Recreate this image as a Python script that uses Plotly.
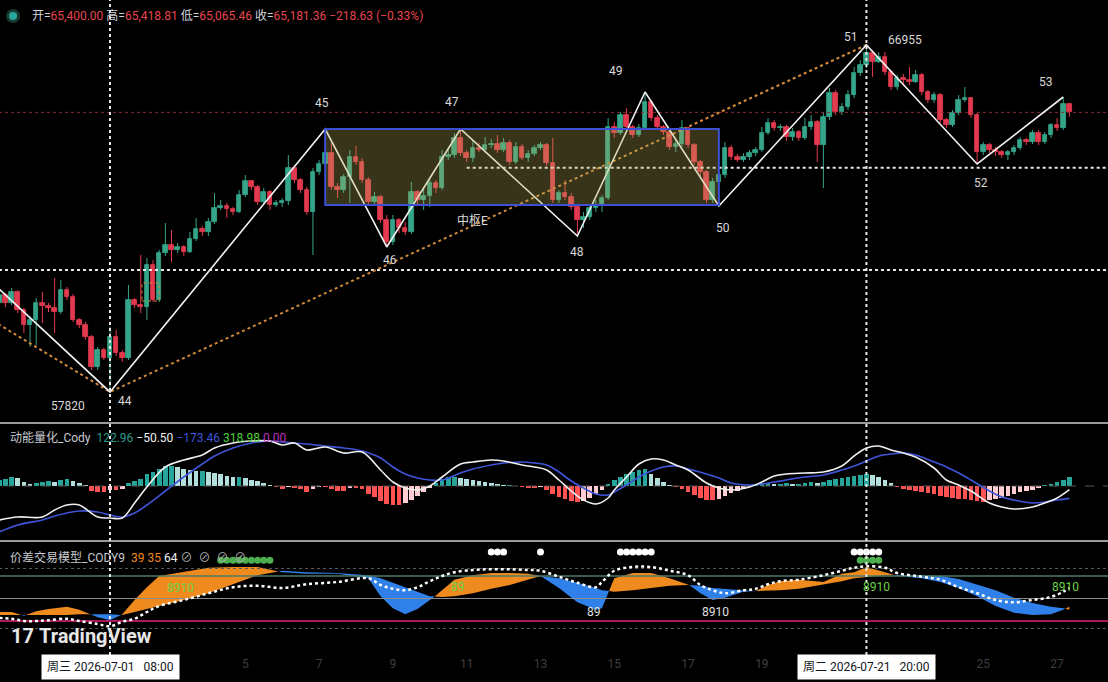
import pandas as pd
import plotly.graph_objects as go
from plotly.subplots import make_subplots

# 4h candles starting 2026-06-28 08:00
t0 = pd.Timestamp("2026-06-28 08:00")
times = pd.date_range(t0, periods=175, freq="4h")

first_open = 60162
close = [
    60373, 60162, 60452, 59978, 59583, 59714, 60162, 60083, 60030, 59925,
    60504, 60320, 59714, 59583, 59267, 58477, 58925, 58714, 59267, 58846,
    58714, 60241, 60109, 60057, 61162, 60241, 61479, 61689, 61558, 61637,
    61505, 61847, 62110, 62031, 62295, 62663, 62716, 62637, 62558, 63006,
    63374, 63216, 62821, 63085, 62742, 62795, 62848, 63717, 63401, 63137,
    62558, 63611, 63822, 64111, 63216, 63137, 63480, 64006, 63875, 63401,
    62821, 62953, 62347, 61768, 62347, 62137, 62031, 63085, 62874, 62979,
    63321, 63190, 64006, 64059, 64507, 64111, 63980, 64243, 64190, 64322,
    64348, 64190, 64375, 63875, 64269, 63980, 64085, 64243, 64322, 63848,
    62874, 63058, 62953, 62690, 62347, 62426, 62663, 62742, 62927, 64796,
    64638, 65112, 64796, 64586, 64770, 65454, 65033, 64796, 64664, 64269,
    64348, 64770, 64322, 63875, 63611, 62874, 63348, 63532, 64243, 64006,
    63927, 64006, 64111, 64190, 64638, 64901, 64770, 64796, 64533, 64664,
    64507, 64796, 64928, 64322, 65059, 65691, 65191, 65323, 65639, 66218,
    66429, 66745, 66507, 66639, 66244, 65849, 66086, 66034, 65981, 66165,
    65718, 65507, 65639, 64980, 64849, 65165, 65507, 65560, 65112, 64138,
    64322, 64190, 64138, 64059, 64138, 64243, 64454, 64401, 64638, 64401,
    64586, 64849, 64770, 65400, 65181.36,
]
high = [
    60504, 60426, 60557, 60504, 60030, 59820, 60294, 60452, 60162, 60820,
    60768, 60583, 60399, 59767, 59662, 59319, 59004, 58977, 59530, 59451,
    58925, 60636, 60294, 61426, 61347, 61294, 61558, 62268, 62084, 61742,
    61689, 62031, 62400, 62190, 62400, 63058, 62874, 62795, 62690, 63137,
    63532, 63401, 63269, 63190, 63137, 62874, 62927, 64059, 63796, 63453,
    63216, 63717, 63927, 64743, 64375, 63321, 63559, 64190, 64296, 63980,
    63480, 63085, 63006, 62479, 62479, 62400, 62295, 63348, 63137, 63190,
    63453, 63401, 64190, 64243, 64638, 64743, 64190, 64454, 64375, 64533,
    64480, 64586, 64507, 64454, 64401, 64348, 64190, 64322, 64401, 64375,
    64507, 63137, 63401, 63058, 62742, 62558, 62769, 62874, 63006, 65033,
    64928, 65191, 65296, 64849, 64875, 65718, 65507, 65112, 64849, 64717,
    64454, 64980, 64796, 64375, 63927, 63664, 63453, 63664, 64401, 64322,
    64085, 64111, 64190, 64269, 64796, 65033, 64980, 64875, 64849, 64770,
    64717, 65033, 65112, 64980, 65191, 65823, 65770, 65428, 65770, 66376,
    66560, 66955, 66823, 66771, 66771, 66297, 66165, 66192, 66376, 66297,
    66218, 65770, 65718, 65691, 65033, 65244, 65639, 65849, 65586, 65165,
    64401, 64375, 64269, 64190, 64190, 64322, 64533, 64507, 64717, 64717,
    64664, 64901, 65033, 65586, 65418.81,
]
low = [
    60083, 60057, 60109, 59899, 59372, 59004, 59056, 59635, 59925, 59372,
    59872, 60241, 59662, 59504, 59188, 58398, 58398, 58661, 57820, 58767,
    58609, 58661, 60030, 59899, 59714, 60188, 60188, 61400, 61242, 61479,
    61400, 61479, 61795, 61926, 61926, 62242, 62611, 62400, 62479, 62532,
    62953, 63137, 62742, 62769, 62611, 62690, 62690, 62742, 63321, 63058,
    62479, 61426, 63532, 63769, 63137, 62927, 63058, 62795, 63796, 63321,
    62742, 62769, 62268, 61637, 61689, 62005, 61952, 61979, 62742, 62611,
    62690, 63058, 63137, 63927, 63980, 64033, 63875, 63875, 64138, 64190,
    64243, 64111, 64138, 63796, 63822, 63927, 63875, 64033, 64190, 63769,
    62795, 62795, 62874, 62611, 61926, 62137, 62347, 62558, 62558, 62874,
    64507, 64586, 64717, 64507, 64533, 64717, 64954, 64717, 64586, 64190,
    64138, 64269, 64243, 63796, 63506, 62795, 62795, 62716, 63453, 63927,
    63875, 63875, 63927, 64033, 64138, 64586, 64691, 64691, 64428, 64428,
    64428, 64454, 64717, 63875, 63190, 64980, 65112, 65112, 65244, 65560,
    66139, 66350, 66113, 66481, 66165, 65770, 65770, 65902, 65902, 65955,
    65639, 65428, 65428, 64901, 64770, 64796, 65112, 65454, 65033, 63822,
    64059, 64111, 64033, 63980, 63927, 64059, 64190, 64322, 64348, 64322,
    64348, 64507, 64691, 64717, 65065.46,
]
opens = [first_open] + close[:-1]

# zigzag pivots (bar index, price)
zz_idx = [-3, 18, 53, 63, 75, 94, 105, 117, 141, 159, 173]
zz_px = [60978, 57820, 64743, 61637, 64743, 61926, 65718, 62716, 66955, 63822, 65586]
zz_txt = ["", "44", "45", "46", "47", "48", "49", "50", "51", "52", "53"]

# orange dotted trend line
tl_idx = [-1, 18, 141]
tl_px = [59690, 57820, 66955]

# 中枢E zone
zone_idx = [53, 117]
zone_px = [62740, 64743]

lvl_full = 61030
lvl_part = 63720
lvl_part_from = 76

# momentum panel
hist = [
    84, 98, 126, 112, 56, 28, 42, 56, 70, 56,
    84, 98, 70, 42, 14, -70, -84, -84, -56, -56,
    -42, 42, 70, 98, 168, 196, 238, 280, 280, 266,
    238, 224, 210, 210, 196, 182, 168, 140, 126, 126,
    112, 84, 70, 42, 14, -14, -42, -14, -28, -42,
    -84, -42, -14, -14, -42, -70, -70, -28, -28, -42,
    -112, -154, -210, -252, -266, -266, -238, -196, -140, -84,
    -28, 42, 98, 126, 126, 112, 98, 84, 70, 56,
    42, 28, 14, 14, 0, -14, -28, -28, -14, -56,
    -112, -154, -182, -210, -224, -210, -168, -112, -56, 28,
    84, 126, 168, 196, 224, 238, 168, 112, 56, 14,
    -14, -42, -84, -126, -168, -196, -196, -182, -140, -98,
    -70, -42, -14, 28, 42, 42, 28, 28, 42, 28,
    28, 42, 56, 42, 56, 84, 98, 112, 126, 140,
    154, 168, 154, 126, 84, 42, -14, -42, -56, -70,
    -84, -98, -112, -140, -154, -168, -182, -182, -196, -210,
    -224, -196, -182, -168, -140, -112, -84, -70, -56, -28,
    14, 28, 56, 84, 122.96,
]
macd_idx = [0, 3, 7, 9, 11, 13, 16, 18, 20, 22, 24, 27, 30, 33, 35, 38, 41, 44, 46, 48,
            50, 53, 56, 59, 62, 64, 66, 68, 70, 72, 75, 77, 80, 82, 85, 87, 89, 91, 93, 95,
            97, 99, 100, 102, 104, 106, 108, 110, 112, 115, 117, 119, 122, 124, 126, 128,
            131, 134, 137, 139, 141, 143, 145, 147, 149, 152, 154, 156, 158, 161, 163, 165,
            168, 170, 172, 174]
macd_line = [-476, -434, -434, -336, -266, -266, -434, -448, -448, -238, -14, 266, 364, 434,
             532, 602, 630, 630, 574, 602, 504, 546, 462, 476, 224, 56, -28, -56, 0, 126,
             308, 336, 364, 350, 294, 266, 224, 84, -70, -196, -252, -168, -56, 126, 308,
             378, 364, 294, 224, 42, -28, -56, -14, 56, 140, 168, 182, 196, 280, 420, 532,
             560, 504, 462, 406, 252, 84, 14, -70, -238, -294, -322, -294, -238, -168, -50.5]
signal_line = [-644, -546, -476, -420, -378, -350, -364, -406, -434, -378, -266, -70, 126,
               308, 420, 532, 602, 630, 616, 602, 588, 560, 532, 490, 392, 266, 168, 112, 84,
               84, 182, 238, 294, 322, 336, 322, 294, 196, 70, -28, -112, -126, -84, 14, 126,
               210, 266, 280, 238, 168, 112, 42, 14, 28, 56, 84, 126, 154, 224, 280, 350, 420,
               448, 462, 434, 336, 266, 182, 84, -70, -154, -196, -238, -224, -196, -173.46]

# spread model panel
cody_idx = [0, 2, 4, 6, 8, 11, 13, 16, 18, 20, 22, 24, 26, 30, 34, 38, 42, 46, 50, 55,
            60, 62, 64, 66, 68, 70, 72, 74, 77, 80, 83, 86, 88, 91, 94, 97, 98, 100, 103, 106,
            109, 112, 114, 116, 118, 121, 123, 125, 127, 130, 134, 137, 139, 141, 144, 146,
            150, 153, 156, 159, 162, 165, 168, 171, 173, 174]
fast = [32, 32, 27, 33, 36, 39, 35, 25, 21, 29, 48, 65, 80, 85, 91, 92, 92, 85, 83, 83,
        77, 53, 37, 29, 36, 47, 61, 75, 81, 84, 84, 83, 80, 64, 45, 35, 37, 77, 84, 84,
        77, 69, 57, 48, 51, 59, 60, 68, 73, 75, 72, 83, 85, 92, 85, 80, 77, 72, 64, 53,
        40, 31, 28, 29, 35, 39]
slow = [28, 28, 28, 28, 28, 28, 29, 29, 29, 28, 31, 36, 40, 48, 57, 69, 81, 87, 85, 84,
        81, 77, 72, 65, 59, 53, 52, 53, 57, 63, 68, 75, 80, 77, 71, 64, 61, 59, 61, 64,
        67, 68, 67, 64, 63, 61, 60, 60, 61, 63, 69, 73, 77, 79, 81, 81, 81, 80, 76, 69,
        61, 51, 44, 39, 37, 35]
trend = [24, 23, 20, 20, 21, 23, 20, 16, 13, 19, 23, 32, 40, 48, 57, 65, 67, 64, 69, 72,
         77, 68, 63, 61, 65, 73, 80, 85, 88, 89, 89, 88, 87, 79, 71, 65, 72, 87, 92, 92,
         87, 81, 68, 61, 57, 61, 63, 69, 73, 75, 81, 87, 91, 93, 91, 84, 79, 75, 65, 57,
         48, 45, 48, 52, 59, 64]
levels = [90, 80, 50, 20, 10]
white_dot_idx = [80, 81, 82, 88, 101, 102, 103, 104, 105, 106, 139, 140, 141, 142, 143]
green_dot_idx = [36, 37, 38, 39, 40, 41, 42, 43, 44, 140, 141, 142, 143]
white_dot_v = 112
green_dot_v = 101
sig_idx = [29.4, 74.6, 96.7, 116.4, 142.7, 173.3]
sig_v = [64, 65, 32, 32, 65, 65]
sig_txt = ["8910", "89", "89", "8910", "8910", "8910"]
sig_green = [True, True, False, False, True, True]

# day ticks on the time axis (the rest sit under the date boxes)
tick_days = [5, 7, 9, 11, 13, 15, 17, 19, 25, 27]

UP, DN = "#35a68a", "#e33a4f"
FONT = 'Roboto, "Noto Sans CJK SC", sans-serif'
W, H, PH = 1108, 682, 655
BAR_MS = 4 * 3600 * 1000


def tx(i):
    return t0 + pd.Timedelta(hours=4 * i)


def px(x):
    return x / W


def py(y):
    return (PH - y) / PH


def cloud(xi, a, b):
    regions = []
    sx, sa, sb = [xi[0]], [a[0]], [b[0]]
    up = a[0] >= b[0]
    for k in range(1, len(xi)):
        now = a[k] >= b[k]
        if now != up:
            d0, d1 = a[k - 1] - b[k - 1], a[k] - b[k]
            f = d0 / (d0 - d1)
            xc = xi[k - 1] + f * (xi[k] - xi[k - 1])
            yc = a[k - 1] + f * (a[k] - a[k - 1])
            sx.append(xc); sa.append(yc); sb.append(yc)
            regions.append((up, sx, sa, sb))
            sx, sa, sb = [xc], [yc], [yc]
            up = now
        sx.append(xi[k]); sa.append(a[k]); sb.append(b[k])
    regions.append((up, sx, sa, sb))
    return regions


fig = make_subplots(rows=3, cols=1, shared_xaxes=True, vertical_spacing=0)

# ---- price panel: candles as wick lines + body bars
for is_up, col in ((True, UP), (False, DN)):
    wx, wy = [], []
    for t, o, h, l, c in zip(times, opens, high, low, close):
        if (c >= o) == is_up:
            wx += [t, t, None]
            wy += [l, h, None]
    fig.add_trace(go.Scatter(x=wx, y=wy, mode="lines", line=dict(color=col, width=1),
                             hoverinfo="skip"), row=1, col=1)
body_base = [min(o, c) for o, c in zip(opens, close)]
body_size = [abs(c - o) for o, c in zip(opens, close)]
body_col = [UP if c >= o else DN for o, c in zip(opens, close)]
fig.add_trace(go.Bar(x=times, y=body_size, base=body_base, width=0.74 * BAR_MS,
                     marker=dict(color=body_col, line=dict(color=body_col, width=0.8)),
                     hoverinfo="skip"), row=1, col=1)

x_end = tx(182)
fig.add_trace(go.Scatter(x=[tx(-2), x_end], y=[close[-1]] * 2, mode="lines",
                         line=dict(color="#8a2e30", width=1, dash="dot")), row=1, col=1)
fig.add_trace(go.Scatter(x=[tx(-2), x_end], y=[lvl_full] * 2, mode="lines",
                         line=dict(color="#e8e8e8", width=2, dash="dot")), row=1, col=1)
fig.add_trace(go.Scatter(x=[tx(lvl_part_from), x_end], y=[lvl_part] * 2, mode="lines",
                         line=dict(color="#e8e8e8", width=2, dash="dot")), row=1, col=1)
fig.add_trace(go.Scatter(x=[tx(i) for i in tl_idx], y=tl_px, mode="lines",
                         line=dict(color="#d08a3c", width=2, dash="dot")), row=1, col=1)
fig.add_trace(go.Scatter(x=[tx(i) for i in zz_idx], y=zz_px, mode="lines",
                         line=dict(color="#f2f2f2", width=1.6)), row=1, col=1)

# ---- momentum panel
hist_cols = []
for k, h in enumerate(hist):
    prev = hist[k - 1] if k else h
    if h >= 0:
        hist_cols.append("#26a69a" if h >= prev else "#b2dfdb")
    else:
        hist_cols.append("#ff5252" if h <= prev else "#ffcdd2")
fig.add_trace(go.Scatter(x=[tx(-2), x_end], y=[0, 0], mode="lines",
                         line=dict(color="#555555", width=1, dash="dash")), row=2, col=1)
fig.add_trace(go.Bar(x=times, y=hist, marker=dict(color=hist_cols, line=dict(width=0)),
                     width=0.75 * BAR_MS, hoverinfo="skip"), row=2, col=1)
fig.add_trace(go.Scatter(x=[tx(i) for i in macd_idx], y=signal_line, mode="lines",
                         line=dict(color="#3f55d8", width=1.6, shape="spline")), row=2, col=1)
fig.add_trace(go.Scatter(x=[tx(i) for i in macd_idx], y=macd_line, mode="lines",
                         line=dict(color="#f0f0f0", width=1.6, shape="spline")), row=2, col=1)

# ---- spread model panel
for up, sx, sa, sb in cloud(cody_idx, fast, slow):
    fig.add_trace(go.Scatter(
        x=[tx(v) for v in sx + sx[::-1]], y=sa + sb[::-1], mode="lines",
        fill="toself", fillcolor="#ef8a1f" if up else "#2f80e8",
        line=dict(width=0), hoverinfo="skip"), row=3, col=1)

lvl_style = {90: ("#5a5a5a", 1, "dot"), 80: ("#4f7a68", 1.5, "solid"),
             50: ("#8c8c8c", 1, "solid"), 20: ("#a8185a", 2, "solid"),
             10: ("#5a5a5a", 1, "dot")}
for lv in levels:
    c, w, d = lvl_style[lv]
    fig.add_trace(go.Scatter(x=[tx(-2), x_end], y=[lv, lv], mode="lines",
                             line=dict(color=c, width=w, dash=d)), row=3, col=1)

fig.add_trace(go.Scatter(x=[tx(i) for i in cody_idx], y=trend, mode="lines",
                         line=dict(color="#ffffff", width=2.5, dash="dot", shape="spline")),
              row=3, col=1)
fig.add_trace(go.Scatter(x=[tx(i) for i in green_dot_idx], y=[green_dot_v] * len(green_dot_idx),
                         mode="markers", marker=dict(color="#4caf50", size=7)), row=3, col=1)
fig.add_trace(go.Scatter(x=[tx(i) for i in white_dot_idx], y=[white_dot_v] * len(white_dot_idx),
                         mode="markers", marker=dict(color="#ffffff", size=7)), row=3, col=1)

# ---- annotations
ann = []
zz_off = {"44": (15, -9), "45": (-3, 26), "46": (3, -13), "47": (-9, 27), "48": (0, -16),
          "49": (-29, 21), "50": (4, -22), "51": (-15, 8), "52": (4, -19), "53": (-17, 15)}
for i, p, t in zip(zz_idx, zz_px, zz_txt):
    if not t:
        continue
    dx, dy = zz_off[t]
    ann.append(dict(x=tx(i), y=p, xref="x", yref="y", text=t, showarrow=False,
                    xshift=dx, yshift=dy, font=dict(size=12, color="#d9d9d9")))
ann.append(dict(x=tx(zz_idx[1]), y=zz_px[1], xref="x", yref="y", text=f"{zz_px[1]}",
                showarrow=False, xshift=-42, yshift=-14, font=dict(size=12, color="#d9d9d9")))
ann.append(dict(x=tx(zz_idx[8]), y=zz_px[8], xref="x", yref="y", text=f"{zz_px[8]}",
                showarrow=False, xshift=39, yshift=5, font=dict(size=12, color="#d9d9d9")))
ann.append(dict(x=tx(77), y=62347, xref="x", yref="y", text="中枢E", showarrow=False,
                font=dict(size=12, color="#dcdcdc")))

for i, v, t, g in zip(sig_idx, sig_v, sig_txt, sig_green):
    ann.append(dict(x=tx(i), y=v, xref="x3", yref="y3", text=t, showarrow=False,
                    font=dict(size=12, color="#6cd147" if g else "#e0e0e0")))

lab, red = "#d1d4dc", "#e8454f"
row1 = (f'<span style="color:{lab}">开=</span><span style="color:{red}">65,400.00</span> '
        f'<span style="color:{lab}">高=</span><span style="color:{red}">65,418.81</span> '
        f'<span style="color:{lab}">低=</span><span style="color:{red}">65,065.46</span> '
        f'<span style="color:{lab}">收=</span><span style="color:{red}">65,181.36</span> '
        f'<span style="color:{red}">−218.63 (−0.33%)</span>')
ann.append(dict(x=px(30), y=py(16), xref="paper", yref="paper", text=row1, showarrow=False,
                xanchor="left", yanchor="middle", font=dict(size=12)))
row2 = ('<span style="color:#c8cad0">动能量化_Cody</span>&nbsp;&nbsp;'
        '<span style="color:#2e9c8a">122.96</span>&nbsp;'
        '<span style="color:#f0f0f0">−50.50</span>&nbsp;'
        '<span style="color:#3f55d8">−173.46</span>&nbsp;'
        '<span style="color:#4cd13a">318.98</span>&nbsp;'
        '<span style="color:#c030c0">0.00</span>')
ann.append(dict(x=px(8), y=py(438), xref="paper", yref="paper", text=row2, showarrow=False,
                xanchor="left", yanchor="middle", font=dict(size=12)))
row3 = ('<span style="color:#c8cad0">价差交易模型_CODY9</span>&nbsp;&nbsp;'
        '<span style="color:#ef8a1f">39</span>&nbsp;<span style="color:#ef8a1f">35</span>&nbsp;'
        '<span style="color:#f0f0f0">64</span>&nbsp;'
        '<span style="color:#b0b0b0">⊘&nbsp;&nbsp;⊘&nbsp;&nbsp;⊘&nbsp;&nbsp;⊘</span>')
ann.append(dict(x=px(8), y=py(557), xref="paper", yref="paper", text=row3, showarrow=False,
                xanchor="left", yanchor="middle", font=dict(size=12)))

ann.append(dict(x=px(9), y=py(636), xref="paper", yref="paper",
                text='<b>17</b> <b>TradingView</b>', showarrow=False, xanchor="left",
                yanchor="middle", font=dict(size=20, color="#e6e6e6")))

for i, t in [(18, "周三 2026-07-01&nbsp;&nbsp;&nbsp;08:00"), (141, "周二 2026-07-21&nbsp;&nbsp;&nbsp;20:00")]:
    ann.append(dict(x=tx(i), y=py(667), xref="x3", yref="paper", text=t, showarrow=False,
                    yanchor="middle", bgcolor="#ffffff", borderpad=5,
                    font=dict(size=12, color="#131722")))

# ---- shapes
shapes = [
    dict(type="rect", xref="x", yref="y", x0=tx(zone_idx[0]), x1=tx(zone_idx[1]),
         y0=zone_px[0], y1=zone_px[1], fillcolor="rgba(187,173,87,0.3)",
         line=dict(color="#3d50d4", width=2), layer="above"),
    dict(type="rect", xref="x", yref="y", x0=tx(23.2), x1=tx(26.0), y0=60215, y1=60690,
         line=dict(color="#d08a3c", width=1, dash="dot")),
    dict(type="line", xref="paper", yref="paper", x0=0, x1=1, y0=py(423), y1=py(423),
         line=dict(color="#cfcfcf", width=1.5)),
    dict(type="line", xref="paper", yref="paper", x0=0, x1=1, y0=py(541), y1=py(541),
         line=dict(color="#cfcfcf", width=1.5)),
    dict(type="circle", xref="paper", yref="paper", xsizemode="pixel", ysizemode="pixel",
         xanchor=px(13), yanchor=py(16), x0=-7, x1=7, y0=-7, y1=7,
         fillcolor="#173a32", line=dict(width=0)),
    dict(type="circle", xref="paper", yref="paper", xsizemode="pixel", ysizemode="pixel",
         xanchor=px(13), yanchor=py(16), x0=-4, x1=4, y0=-4, y1=4,
         fillcolor="#26a69a", line=dict(width=0)),
]
for i in (18, 141):
    shapes.append(dict(type="line", xref="x", yref="paper", x0=tx(i), x1=tx(i), y0=0, y1=1,
                       line=dict(color="#e8e8e8", width=2, dash="dot"), layer="above"))

fig.update_layout(
    width=W, height=H, margin=dict(l=0, r=0, t=0, b=H - PH),
    paper_bgcolor="#000000", plot_bgcolor="#000000", showlegend=False,
    font=dict(family=FONT, color="#d1d4dc", size=12), hovermode=False,
    bargap=0, barmode="overlay",
    annotations=ann, shapes=shapes,
    yaxis=dict(domain=[py(422), 1], range=[57029, 68140]),
    yaxis2=dict(domain=[py(540), py(424)], range=[-756, 868]),
    yaxis3=dict(domain=[0, py(542)], range=[-25.3, 125.3]),
)
fig.update_xaxes(range=[tx(0.114), tx(180.28)], showgrid=False, zeroline=False,
                 showline=False, ticks="", rangeslider_visible=False)
fig.update_yaxes(showgrid=False, zeroline=False, showticklabels=False, showline=False)
fig.update_xaxes(row=3, col=1, showticklabels=True,
                 tickvals=[pd.Timestamp(2026, 7, d) for d in tick_days],
                 ticktext=[str(d) for d in tick_days],
                 tickfont=dict(color="#3e3e3e", size=12))

fig.write_html("out.html", config={"displayModeBar": False},
               post_script="document.body.style.margin='0';document.body.style.background='#000';")
